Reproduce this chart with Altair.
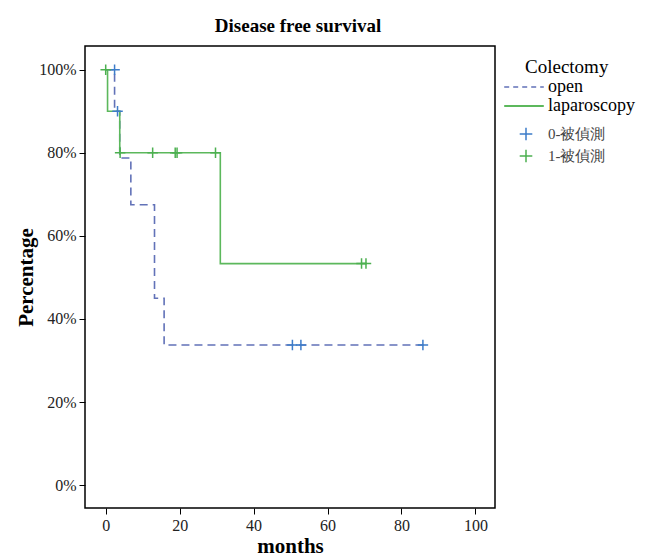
import altair as alt
import pandas as pd

# Kaplan-Meier steps (months, percentage)
open_t = [0, 2.4, 3.8, 6.8, 13.2, 15.8, 86.0]
open_s = [100, 90, 78.75, 67.5, 45, 33.75, 33.75]
lap_t = [0, 0.5, 3.8, 31.0, 70.5]
lap_s = [100, 90, 80, 53.33, 53.33]

# censored observations
open_cens_t = [2.4, 3.2, 50.5, 52.8, 85.8]
open_cens_s = [100, 90, 33.75, 33.75, 33.75]
lap_cens_t = [0, 3.9, 12.7, 18.8, 19.3, 29.7, 69.2, 70.4]
lap_cens_s = [100, 80, 80, 80, 80, 80, 53.33, 53.33]

groups = ["open", "laparoscopy"]
censor_labels = ["0-被偵測", "1-被偵測"]
x_ticks = [0, 20, 40, 60, 80, 100]
y_ticks = [0, 20, 40, 60, 80, 100]

open_df = pd.DataFrame({"t": open_t, "s": open_s, "group": groups[0]})
lap_df = pd.DataFrame({"t": lap_t, "s": lap_s, "group": groups[1]})
cens_df = pd.DataFrame(
    {"t": open_cens_t + lap_cens_t, "s": open_cens_s + lap_cens_s,
     "label": [censor_labels[0]] * len(open_cens_t) + [censor_labels[1]] * len(lap_cens_t)}
)

xscale = alt.Scale(domain=[-5.6, 105.3], nice=False, zero=False)
yscale = alt.Scale(domain=[-5.5, 105.7], nice=False, zero=False)

x_enc = alt.X("t:Q", scale=xscale, axis=alt.Axis(values=x_ticks, title="months", titlePadding=2))
y_enc = alt.Y("s:Q", scale=yscale, axis=alt.Axis(values=y_ticks, labelExpr="datum.value + '%'",
                                                 title="Percentage", titlePadding=2))

line_sym = "M-2.2,0L2.2,0"
plus_plot = "M-1,0L1,0M0,-1L0,1"
plus_legend = "M-0.7,0L0.7,0M0,-0.7L0,0.7"

LEG_X = 440

open_line = alt.Chart(open_df).mark_line(interpolate="step-after", strokeWidth=1.6, strokeDash=[8, 5]).encode(
    x=x_enc,
    y=y_enc,
    color=alt.Color(
        "group:N",
        scale=alt.Scale(domain=[groups[0]], range=["#6272b8"]),
        legend=alt.Legend(
            title="Colectomy", orient="none", legendX=LEG_X, legendY=12,
            symbolType=line_sym, symbolSize=324, symbolStrokeWidth=1.4, symbolDash=[5, 4],
            symbolOffset=-11, labelOffset=14, titlePadding=0,
            titleFontSize=19, labelFontSize=18,
        ),
    ),
    order=alt.Order("t:Q"),
)

lap_line = alt.Chart(lap_df).mark_line(interpolate="step-after", strokeWidth=1.6).encode(
    x="t:Q",
    y="s:Q",
    color=alt.Color(
        "group:N",
        scale=alt.Scale(domain=[groups[1]], range=["#5cb85c"]),
        legend=alt.Legend(
            title=None, orient="none", legendX=LEG_X, legendY=50,
            symbolType=line_sym, symbolSize=324, symbolStrokeWidth=1.8,
            symbolOffset=-11, labelOffset=14, labelFontSize=18,
        ),
    ),
    order=alt.Order("t:Q"),
)

cens = alt.Chart(cens_df).mark_point(shape=plus_plot, filled=False, strokeWidth=1.5, size=110, opacity=1).encode(
    x="t:Q",
    y="s:Q",
    color=alt.Color(
        "label:N",
        scale=alt.Scale(domain=censor_labels, range=["#3d7cc9", "#4cb050"]),
        legend=alt.Legend(
            title=None, orient="none", legendX=LEG_X, legendY=78,
            symbolType=plus_legend, symbolSize=324, symbolStrokeWidth=1.5,
            symbolOffset=-9, labelOffset=12, rowPadding=2,
            labelFontSize=15, labelColor="#444",
        ),
    ),
)

chart = (
    alt.layer(open_line, lap_line, cens)
    .resolve_scale(color="independent")
    .properties(width=410, height=462, title="Disease free survival",
                padding={"left": 7, "top": 9, "right": 5, "bottom": 5})
    .configure_view(stroke="black", strokeWidth=1.5)
    .configure_axis(labelFont="Liberation Serif", labelFontSize=16, labelColor="#222",
                    titleFont="Liberation Serif", titleFontSize=21, titleFontWeight="bold",
                    titleColor="black", tickColor="black", tickSize=6, labelPadding=3,
                    domain=False, grid=False)
    .configure_title(font="Liberation Serif", fontSize=19, fontWeight="bold", color="black",
                     offset=10, dx=8)
    .configure_legend(labelFont="Liberation Serif", labelColor="black",
                      titleFont="Liberation Serif", titleFontWeight="normal",
                      titleColor="black")
)

chart.save("out.html", embed_options={"renderer": "svg", "actions": False})
